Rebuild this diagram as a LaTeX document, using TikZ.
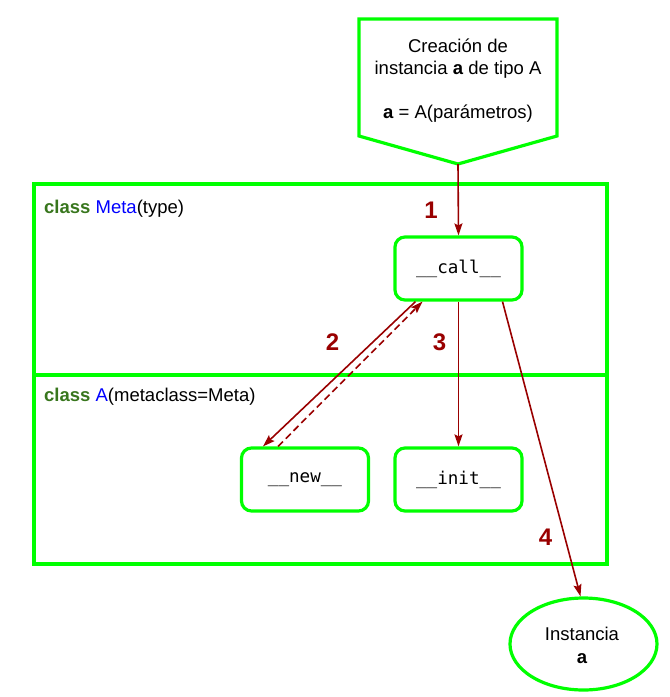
\documentclass[tikz,border=0pt]{standalone}
\usepackage{fontspec}
\setmainfont{Liberation Sans}
\setmonofont{DejaVu Sans Mono}
\usetikzlibrary{arrows.meta,shapes.geometric}
\definecolor{brightgreen}{RGB}{0,255,0}
\definecolor{arrowred}{RGB}{153,0,0}
\definecolor{kwgreen}{RGB}{56,118,29}
\definecolor{clsblue}{RGB}{0,0,255}
\tikzset{
  txt/.style={font=\fontsize{18.5}{22}\selectfont, inner sep=0pt, anchor=base},
  method/.style={draw=brightgreen, line width=3.2pt, rounded corners=10pt, fill=white,
    minimum width=127pt, minimum height=63pt, inner sep=0pt,
    font=\ttfamily\fontsize{17.6}{20}\selectfont},
  container/.style={draw=brightgreen, line width=3.2pt, inner sep=0pt, outer sep=0pt, minimum width=573pt},
  flow/.style={draw=arrowred, line width=1.6pt, -{Stealth[length=12pt,width=8pt,inset=2pt]}},
  num/.style={text=arrowred, font=\bfseries\fontsize{24}{26}\selectfont, inner sep=0pt},
}
\begin{document}
\begin{tikzpicture}[x=1pt,y=-1pt]
\useasboundingbox (0,0) rectangle (670,697);
% start pentagon
\draw[draw=brightgreen, line width=3.2pt, fill=white] (359,19) -- (557,19) -- (557,136) -- (458,164) -- (359,136) -- cycle;
\coordinate (start) at (458,164);
\node[txt] (t1) at (458,52) {Creación de};
\node[txt] (t2) at (458,74) {instancia \textbf{a} de tipo A};
\node[txt] (t3) at (458,118) {\textbf{a} = A(parámetros)};
% containers
\node[container, minimum height=191pt] (meta) at (320.5,279.5) {};
\node[container, minimum height=189pt] (clsA) at (320.5,469.5) {};
\node[txt, anchor=base west] (metalbl) at (44,213) {\textcolor{kwgreen}{\textbf{class}} \textcolor{clsblue}{Meta}(type)};
\node[txt, anchor=base west] (albl) at (44,401) {\textcolor{kwgreen}{\textbf{class}} \textcolor{clsblue}{A}(metaclass=Meta)};
% methods
\node[method] (call) at (458.5,268.5) {\_\_call\_\_};
\node[method] (new) at (305,479.5) {\_\_new\_\_};
\node[method] (init) at (458.5,479.5) {\_\_init\_\_};
% instance
\node[draw=brightgreen, line width=3.2pt, ellipse, minimum width=147pt, minimum height=92pt, inner sep=0pt, fill=white] (inst) at (583.5,644) {};
\node[txt] (i1) at (582,640) {Instancia};
\node[txt] (i2) at (582,663) {\textbf{a}};
% arrows
\draw[flow] (start) -- (call.north);
\draw[flow] ([xshift=-43pt]call.south) -- ([xshift=-42pt]new.north);
\draw[flow, dash pattern=on 7pt off 4pt] ([xshift=-27pt]new.north) -- ([xshift=-36pt]call.south);
\draw[flow] (call.south) -- (init.north);
\draw[flow] ([xshift=44pt]call.south) -- ([xshift=-3pt]inst.north);
% step numbers
\node[num] (n1) at (431,210) {1};
\node[num] (n2) at (332.5,342.5) {2};
\node[num] (n3) at (439.5,342) {3};
\node[num] (n4) at (545.5,537) {4};
\end{tikzpicture}
\end{document}
